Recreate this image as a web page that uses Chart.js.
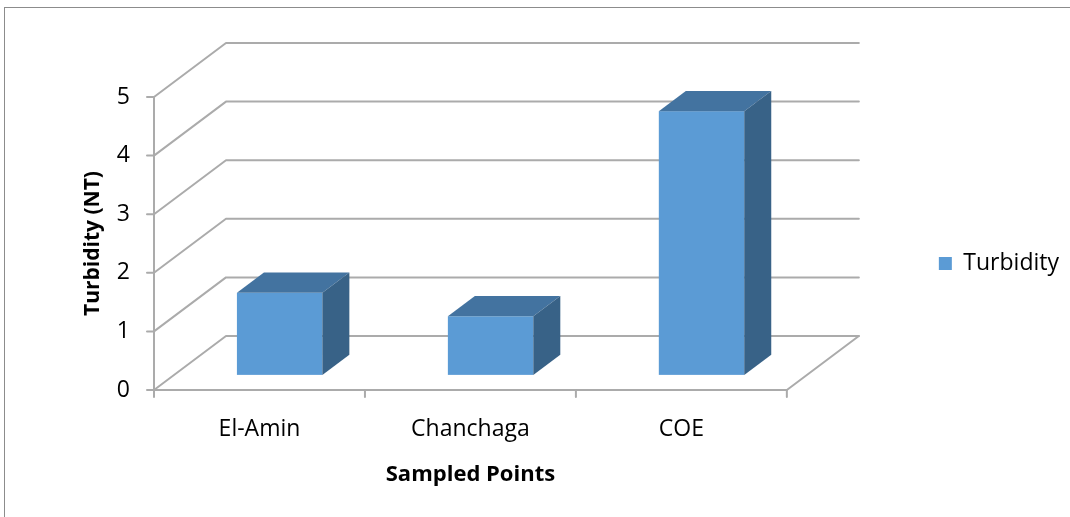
<!DOCTYPE html>
<html>
<head>
<meta charset="utf-8">
<script src="https://cdn.jsdelivr.net/npm/chart.js@4/dist/chart.umd.min.js"></script>
<style>
  html, body { margin: 0; padding: 0; background: #fff; }
  #wrap { width: 1070px; height: 517px; position: relative; }
</style>
</head>
<body>
<div id="wrap"><canvas id="c" width="1070" height="517"></canvas></div>
<script>
// Sampling sites and measured turbidity
const categories = ['El-Amin', 'Chanchaga', 'COE'];
const turbidity = [1.4, 1.0, 4.5];
const seriesName = 'Turbidity';
const yTicks = [0, 1, 2, 3, 4, 5];

const FONT = "'Open Sans', 'Liberation Sans', sans-serif";

// 3D box geometry: wall depth vector and where the bars sit along it
const depth = { x: 72, y: -54 };
const barFront = 0.28;
const barBack = 0.655;
const gridColor = '#ababab';

const colors = {
  front: '#5b9bd5',
  top: '#4373a0',
  side: '#386287'
};

const frame3d = {
  id: 'frame3d',
  beforeDraw(chart) {
    const ctx = chart.ctx;
    ctx.save();
    ctx.strokeStyle = '#8c8c8c';
    ctx.lineWidth = 1;
    ctx.strokeRect(4.5, 7.5, 1200, 700);
    ctx.restore();
  },
  beforeDatasetsDraw(chart) {
    const ctx = chart.ctx;
    const x = chart.scales.x, y = chart.scales.y;
    const L = x.left, R = x.right;
    const bottom = y.getPixelForValue(0), top = y.getPixelForValue(yTicks[yTicks.length - 1]);
    ctx.save();
    ctx.lineCap = 'round';
    ctx.lineJoin = 'round';
    ctx.strokeStyle = gridColor;
    ctx.lineWidth = 2;

    // side wall diagonals and back wall gridlines
    yTicks.forEach(v => {
      const py = y.getPixelForValue(v);
      ctx.beginPath();
      ctx.moveTo(L, py);
      ctx.lineTo(L + depth.x, py + depth.y);
      ctx.lineTo(R + depth.x, py + depth.y);
      ctx.stroke();
    });

    // floor: front edge and right diagonal
    ctx.beginPath();
    ctx.moveTo(L, bottom);
    ctx.lineTo(R, bottom);
    ctx.lineTo(R + depth.x, bottom + depth.y);
    ctx.stroke();

    // front value axis with tick marks
    ctx.beginPath();
    ctx.moveTo(L, top);
    ctx.lineTo(L, bottom);
    yTicks.forEach(v => {
      const py = y.getPixelForValue(v);
      ctx.moveTo(L - 7, py);
      ctx.lineTo(L, py);
    });
    // category boundary ticks
    const step = (R - L) / categories.length;
    for (let i = 0; i <= categories.length; i++) {
      const px = L + i * step;
      ctx.moveTo(px, bottom);
      ctx.lineTo(px, bottom + 7);
    }
    ctx.stroke();

    // bars as boxes
    const fx = depth.x * barFront, fy = depth.y * barFront;
    const bx = depth.x * (barBack - barFront), by = depth.y * (barBack - barFront);
    const meta = chart.getDatasetMeta(0);
    meta.data.forEach(el => {
      const p = el.getProps(['x', 'y', 'base', 'width'], true);
      const x0 = p.x - p.width / 2 + fx, x1 = p.x + p.width / 2 + fx;
      const yt = p.y + fy, yb = p.base + fy;
      // front
      ctx.fillStyle = colors.front;
      ctx.fillRect(x0, yt, x1 - x0, yb - yt);
      // top
      ctx.fillStyle = colors.top;
      ctx.beginPath();
      ctx.moveTo(x0, yt);
      ctx.lineTo(x1, yt);
      ctx.lineTo(x1 + bx, yt + by);
      ctx.lineTo(x0 + bx, yt + by);
      ctx.closePath();
      ctx.fill();
      // side
      ctx.fillStyle = colors.side;
      ctx.beginPath();
      ctx.moveTo(x1, yt);
      ctx.lineTo(x1 + bx, yt + by);
      ctx.lineTo(x1 + bx, yb + by);
      ctx.lineTo(x1, yb);
      ctx.closePath();
      ctx.fill();
    });
    ctx.restore();
    return false;
  }
};

new Chart(document.getElementById('c'), {
  type: 'bar',
  data: {
    labels: categories,
    datasets: [{
      label: seriesName,
      data: turbidity,
      backgroundColor: colors.front,
      borderWidth: 0,
      categoryPercentage: 1,
      barPercentage: 0.405
    }]
  },
  options: {
    responsive: false,
    animation: false,
    events: [],
    layout: { padding: { left: 0, top: 97, right: 1, bottom: 27 } },
    scales: {
      x: {
        grid: { display: false, drawTicks: false },
        border: { display: false },
        ticks: { color: '#000', font: { family: FONT, size: 23 }, padding: 26, maxRotation: 0 },
        title: { display: true, text: 'Sampled Points', color: '#000',
                 font: { family: FONT, size: 22, weight: 'bold' }, padding: { top: 0, bottom: 2 } },
        afterFit(s) { s.height = 100; }
      },
      y: {
        min: 0, max: 5,
        grid: { display: false, drawTicks: false },
        border: { display: false },
        ticks: { stepSize: 1, color: '#000', font: { family: FONT, size: 23 }, padding: 24 },
        title: { display: true, text: 'Turbidity (NT)', color: '#000',
                 font: { family: FONT, size: 21, weight: 'bold' }, padding: { top: 80, bottom: 0 } },
        afterFit(s) { s.width = 154; }
      }
    },
    plugins: {
      tooltip: { enabled: false },
      legend: {
        position: 'right',
        align: 'start',
        maxWidth: 400,
        title: { display: true, text: '', font: { size: 3, lineHeight: 1 }, padding: 0 },
        labels: {
          boxWidth: 13, boxHeight: 13, padding: 152, color: '#000',
          font: { family: FONT, size: 23 }
        }
      }
    }
  },
  plugins: [frame3d]
});
</script>
</body>
</html>
